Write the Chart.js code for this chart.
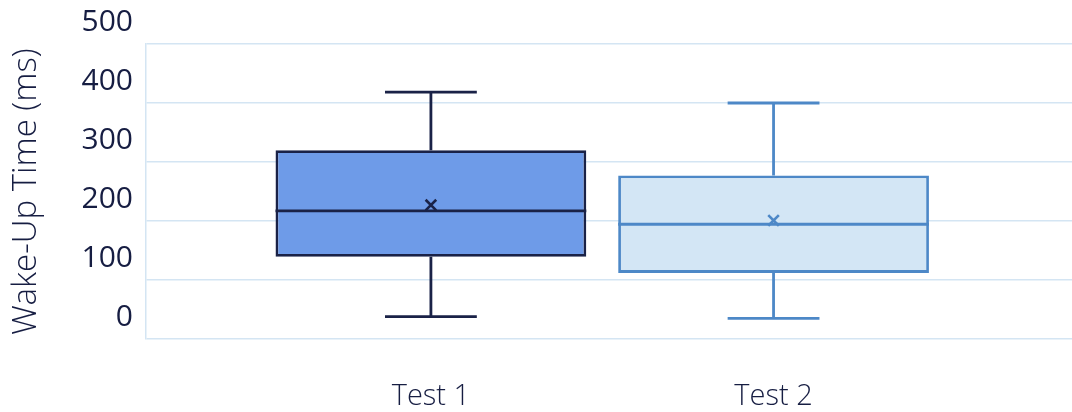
<!DOCTYPE html>
<html>
<head>
<meta charset="utf-8">
<script src="https://cdn.jsdelivr.net/npm/chart.js@4/dist/chart.umd.min.js"></script>
<style>
  html, body { margin: 0; padding: 0; background: #ffffff; overflow: hidden; }
  #wrap { width: 1072px; height: 412px; position: relative; }
  canvas { display: block; }
</style>
</head>
<body>
<div id="wrap"><canvas id="c"></canvas></div>
<script>
// ---- Data ----
const categories  = ['Test 1', 'Test 2'];
const whiskerMin  = [38, 35];
const q1          = [139.5, 112];
const median      = [217, 194.5];
const q3          = [320, 277];
const whiskerMax  = [418.5, 400];
const mean        = [227, 201];
const yTicks      = [0, 100, 200, 300, 400, 500];

// ---- Styling ----
const fillColors   = ['#6E9BE8', '#D3E6F5'];
const strokeColors = ['#1A2247', '#4D88C7'];
const textColor = '#161D42';
const gridColor = '#D4E5F3';
const boxFrac = 0.907;   // box width as fraction of category spacing
const capHalf = 0.134;   // whisker cap half width (in category units)

const pos = categories.map((_, i) => i + 1);

const boxData = pos.map((x, i) => ({ x: x, y: [q1[i], q3[i]] }));

function segmentsFor(i) {
  const x = pos[i];
  const hb = boxFrac / 2;
  const gap = { x: x, y: null };
  return [
    { x: x - capHalf, y: whiskerMin[i] }, { x: x + capHalf, y: whiskerMin[i] }, gap,
    { x: x, y: whiskerMin[i] }, { x: x, y: q1[i] }, gap,
    { x: x, y: q3[i] }, { x: x, y: whiskerMax[i] }, gap,
    { x: x - capHalf, y: whiskerMax[i] }, { x: x + capHalf, y: whiskerMax[i] }, gap,
    { x: x - hb, y: median[i] }, { x: x + hb, y: median[i] }
  ];
}

const lineSets = categories.map((c, i) => ({
  type: 'line',
  label: c + ' whiskers',
  data: segmentsFor(i),
  borderColor: strokeColors[i],
  borderWidth: 2.8,
  pointRadius: 0,
  spanGaps: false,
  fill: false,
  order: 1
}));

const meanSet = {
  type: 'scatter',
  label: 'Mean',
  data: pos.map((x, i) => ({ x: x, y: mean[i] })),
  pointStyle: 'crossRot',
  pointRadius: 7.5,
  borderWidth: 2.6,
  borderColor: strokeColors,
  backgroundColor: strokeColors,
  order: 0
};

new Chart(document.getElementById('c'), {
  type: 'bar',
  data: {
    datasets: [
      {
        label: 'Box',
        data: boxData,
        backgroundColor: fillColors,
        borderColor: strokeColors,
        borderWidth: 2.8,
        borderSkipped: false,
        categoryPercentage: 1,
        barPercentage: boxFrac,
        order: 3
      },
      ...lineSets,
      meanSet
    ]
  },
  options: {
    responsive: true,
    maintainAspectRatio: false,
    animation: false,
    layout: { autoPadding: false, padding: { top: 44, right: 0, bottom: 0, left: 0 } },
    plugins: { legend: { display: false }, tooltip: { enabled: false } },
    scales: {
      x: {
        type: 'linear',
        offset: false,
        min: 0.1685,
        max: 2.871,
        afterBuildTicks: (s) => { s.ticks = pos.map(v => ({ value: v })); },
        afterFit: (s) => { s.height = 73; },
        grid: { display: false, offset: false },
        border: { display: false },
        ticks: {
          autoSkip: false,
          maxRotation: 0,
          padding: 32,
          color: textColor,
          font: { family: 'Open Sans', size: 29, weight: 300 },
          callback: (v) => categories[Math.round(v) - 1] || ''
        }
      },
      y: {
        type: 'linear',
        min: yTicks[0],
        max: yTicks[yTicks.length - 1],
        afterBuildTicks: (s) => { s.ticks = yTicks.map(v => ({ value: v })); },
        afterFit: (s) => { s.width = 146; },
        grid: { color: gridColor, lineWidth: 1.5, drawTicks: false },
        border: { display: true, color: gridColor, width: 1.5 },
        ticks: {
          color: textColor,
          padding: 13,
          labelOffset: -22,
          font: { family: 'Open Sans', size: 30 }
        },
        title: {
          display: true,
          text: 'Wake-Up Time (ms)',
          color: textColor,
          padding: { top: 7, bottom: 0 },
          font: { family: 'Open Sans', size: 33, weight: 300 }
        }
      }
    }
  }
});
</script>
</body>
</html>
